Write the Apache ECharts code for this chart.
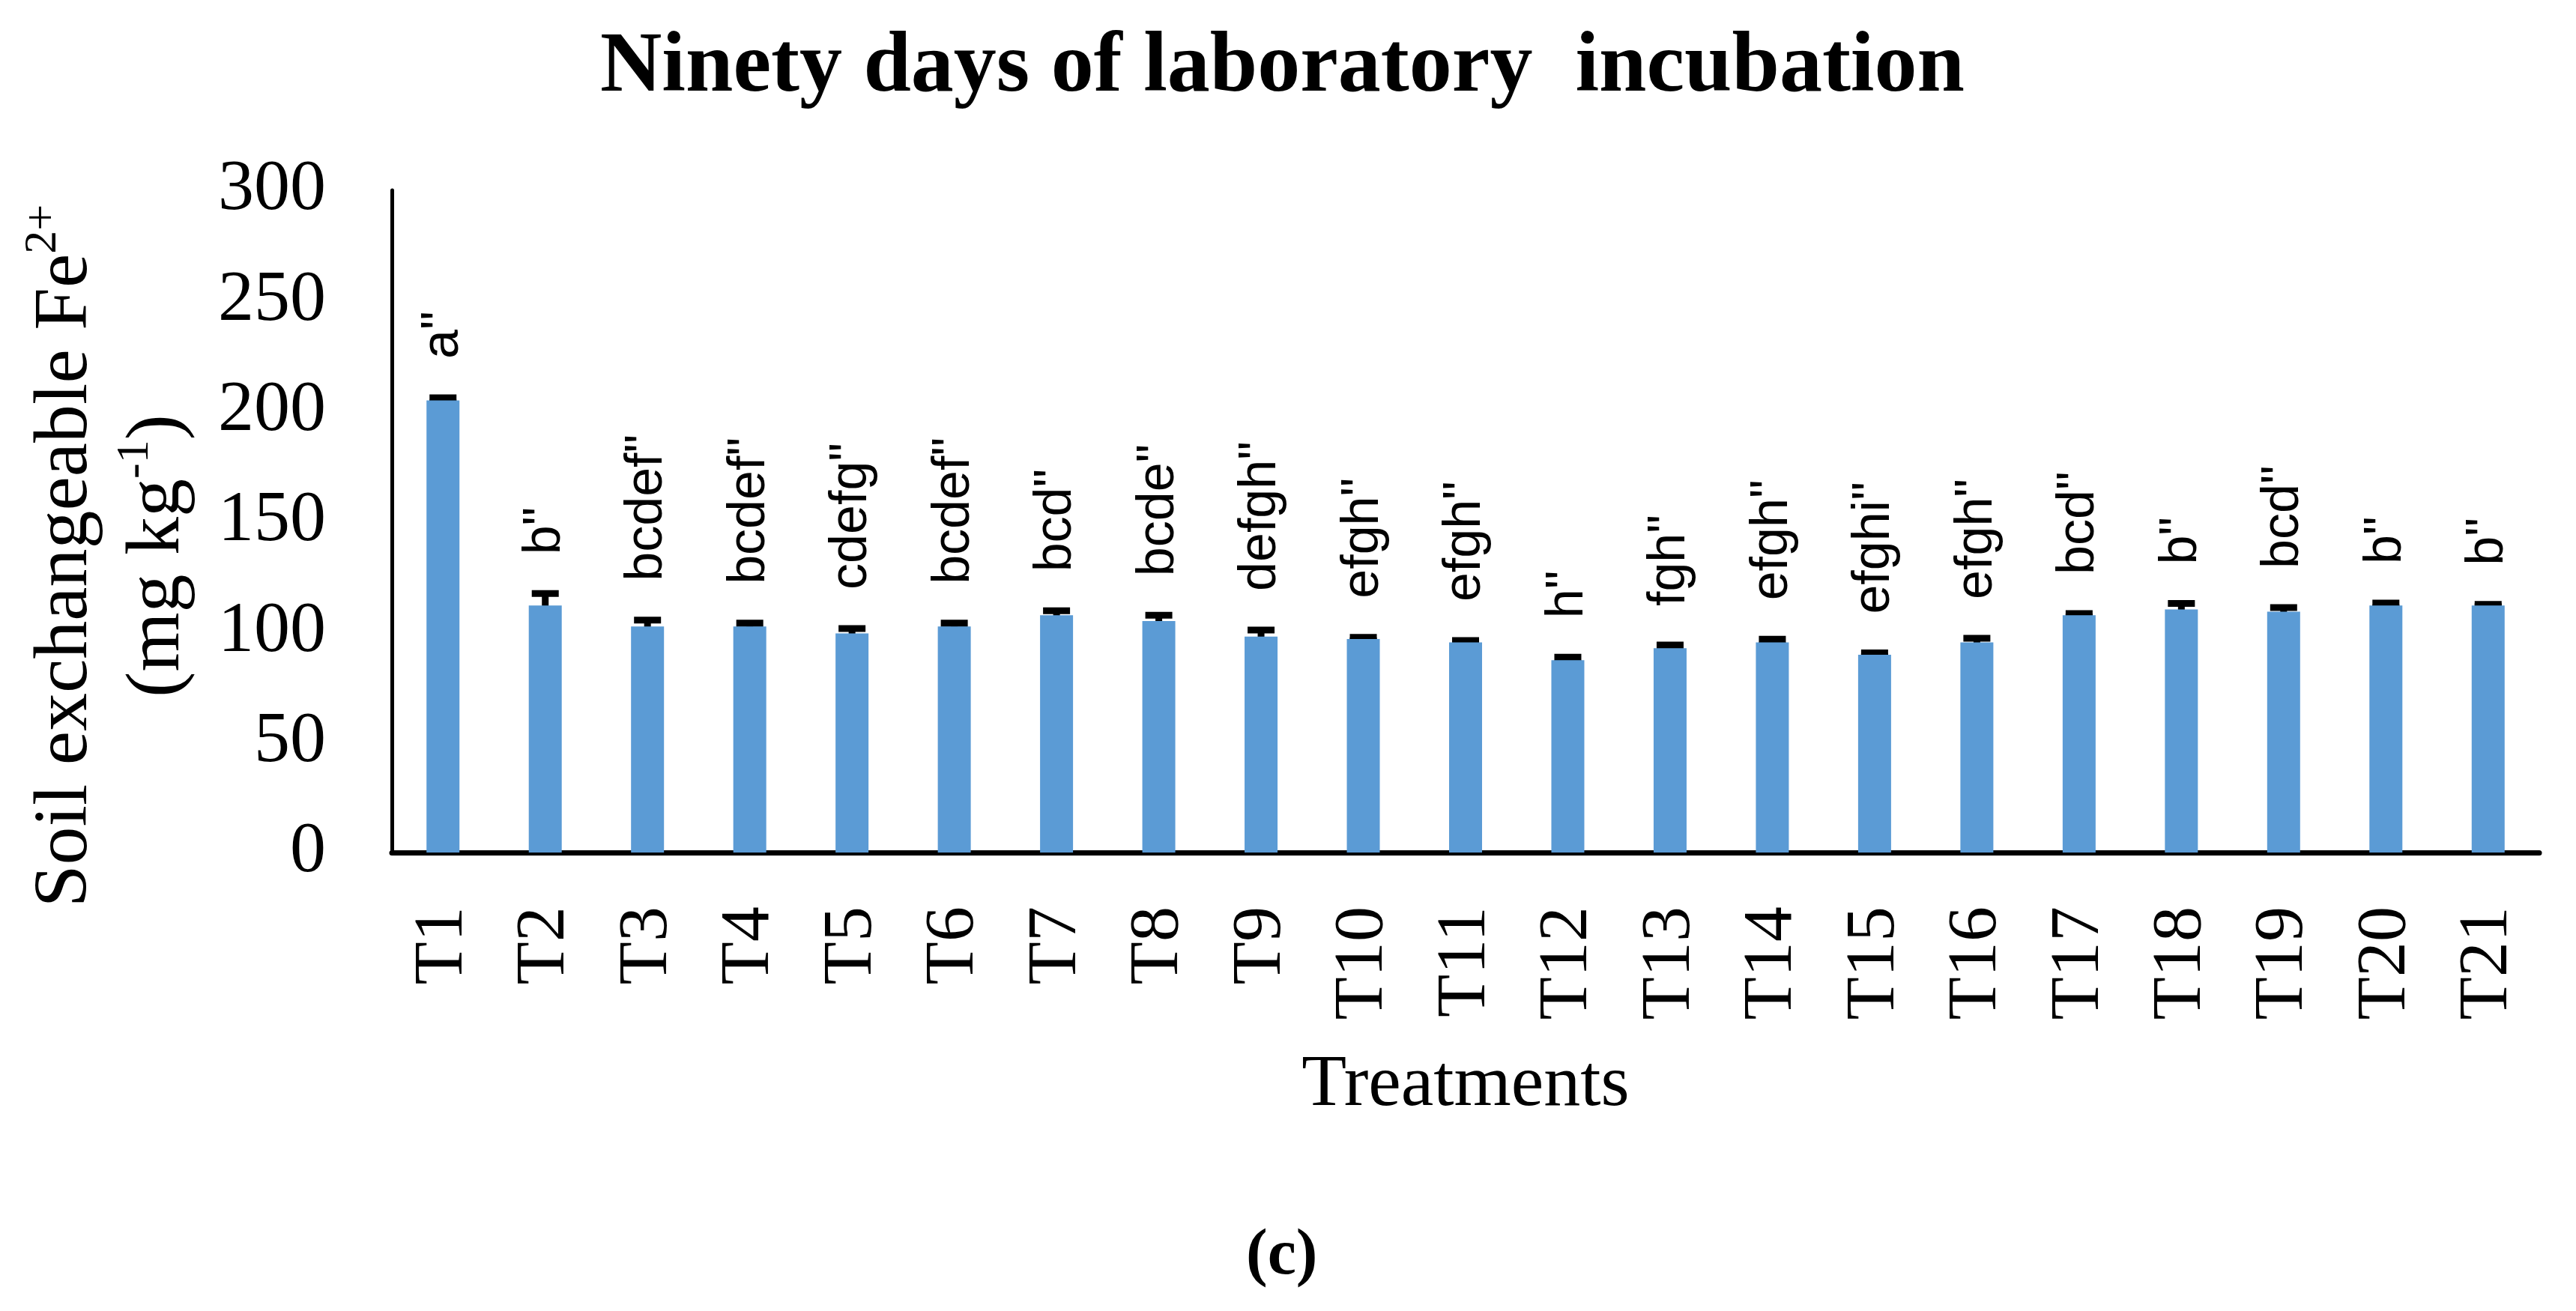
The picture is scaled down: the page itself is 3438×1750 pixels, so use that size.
<!DOCTYPE html>
<html>
<head>
<meta charset="utf-8">
<script src="https://cdn.jsdelivr.net/npm/echarts@6/dist/echarts.min.js"></script>
<style>
html,body{margin:0;padding:0;background:#fff;}
#chart{width:3438px;height:1750px;}
</style>
</head>
<body>
<div id="chart"></div>
<script>
const categories = ['T1','T2','T3','T4','T5','T6','T7','T8','T9','T10','T11','T12','T13','T14','T15','T16','T17','T18','T19','T20','T21'];
const values = [204.8, 111.9, 102.4, 102.4, 99.3, 102.4, 107.5, 104.9, 97.8, 96.7, 95.2, 87.1, 92.6, 95.2, 89.6, 95.2, 107.5, 110.1, 109.1, 111.9, 111.9];
const errors = [1.2, 5.4, 2.9, 1.5, 2.2, 1.5, 2.0, 2.6, 3.0, 0.8, 0.8, 1.4, 1.4, 1.4, 0.8, 1.9, 0.8, 2.7, 1.9, 1.1, 0.5];
const letters = ['a"','b"','bcdef"','bcdef"','cdefg"','bcdef"','bcd"','bcde"','defgh"','efgh"','efgh"','h"','fgh"','efgh"','efghi"','efgh"','bcd"','b"','bcd"','b"','b"'];
const yTicks = [0, 50, 100, 150, 200, 250, 300];

const chart = echarts.init(document.getElementById('chart'));
const serif = '"Liberation Serif", "Times New Roman", serif';

chart.setOption({
  animation: false,
  backgroundColor: '#ffffff',
  title: [
    {
      text: 'Ninety days of laboratory  incubation',
      left: 796,
      top: 30,
      textStyle: { fontFamily: serif, fontWeight: 'bold', fontSize: 114, color: '#000' }
    },
    {
      text: '{p|(}{c|c}{p|)}',
      left: 1658,
      top: 1630,
      textStyle: {
        rich: {
          p: { fontFamily: serif, fontSize: 86, color: '#000' },
          c: { fontFamily: serif, fontSize: 86, fontWeight: 'bold', color: '#000' }
        }
      }
    }
  ],
  grid: { left: 523, right: 49, top: 254, bottom: 612, containLabel: false },
  xAxis: {
    type: 'category',
    data: categories,
    name: 'Treatments',
    nameLocation: 'middle',
    nameGap: 262,
    nameTextStyle: { fontFamily: serif, fontSize: 98, color: '#000' },
    axisLine: { show: true, lineStyle: { color: '#000', width: 7 } },
    axisTick: { show: false },
    axisLabel: { rotate: 90, margin: 72, fontFamily: serif, fontSize: 94, color: '#000' },
    splitLine: { show: false }
  },
  yAxis: {
    type: 'value',
    min: yTicks[0],
    max: yTicks[yTicks.length - 1],
    interval: 50,
    name: '{t|Soil exchangeable Fe}{s|2+}\n{t|(mg kg}{s|-1}{t|)}',
    nameLocation: 'middle',
    nameRotate: 90,
    nameGap: 250,
    nameTextStyle: {
      color: '#000',
      padding: [0, 92, 0, 0],
      rich: {
        t: { fontFamily: serif, fontSize: 102, lineHeight: 123, color: '#000' },
        s: { fontFamily: serif, fontSize: 62, lineHeight: 123, verticalAlign: 'top', color: '#000' }
      }
    },
    axisLine: { show: true, lineStyle: { color: '#000', width: 5 } },
    axisTick: { show: false },
    splitLine: { show: false },
    axisLabel: { margin: 88, fontFamily: serif, fontSize: 96, color: '#000' }
  },
  series: [
    {
      type: 'bar',
      data: values,
      barWidth: 44,
      itemStyle: { color: '#5B9BD5' }
    },
    {
      type: 'custom',
      clip: false,
      data: categories.map((c, i) => [i, values[i], errors[i]]),
      renderItem: function (params, api) {
        const i = api.value(0);
        const v = api.value(1);
        const e = api.value(2);
        const top = api.coord([i, v + e]);
        const bot = api.coord([i, v - e]);
        const x = top[0];
        const half = 18;
        const ls = { stroke: '#000', lineWidth: 9 };
        return {
          type: 'group',
          children: [
            { type: 'line', shape: { x1: x, y1: top[1], x2: x, y2: bot[1] }, style: ls },
            { type: 'line', shape: { x1: x - half, y1: top[1], x2: x + half, y2: top[1] }, style: ls },
            { type: 'line', shape: { x1: x - half, y1: bot[1], x2: x + half, y2: bot[1] }, style: ls },
            {
              type: 'text',
              x: x,
              y: top[1] - 52,
              rotation: Math.PI / 2,
              style: {
                text: letters[params.dataIndex],
                x: 0, y: 0,
                align: 'left',
                verticalAlign: 'middle',
                fontFamily: '"Liberation Sans", Arial, sans-serif',
                fontSize: 70,
                fill: '#000'
              }
            }
          ]
        };
      }
    }
  ]
});
</script>
</body>
</html>
